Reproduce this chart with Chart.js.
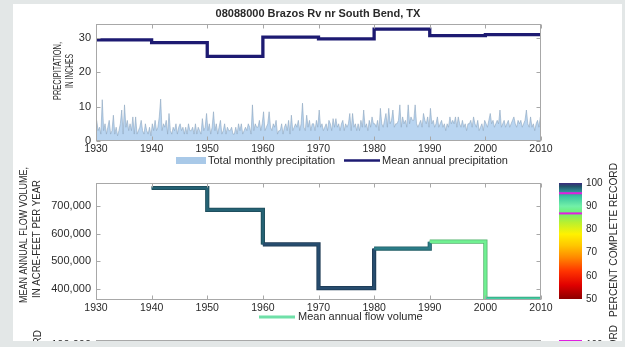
<!DOCTYPE html>
<html>
<head>
<meta charset="utf-8">
<script src="https://cdn.jsdelivr.net/npm/chart.js@4.4.1/dist/chart.umd.min.js"></script>
<style>
  html, body { margin: 0; padding: 0; width: 625px; height: 347px; overflow: hidden; background: #e3e7e7; }
  #sheet { position: absolute; left: 13px; top: 4px; width: 609px; height: 337px; background: #ffffff; overflow: hidden; }
  #sheet canvas { position: absolute; left: -13px; top: -4px; }
</style>
</head>
<body>
<div id="sheet">
  <canvas id="precipChart" width="625" height="347"></canvas>
  <canvas id="flowChart" width="625" height="347"></canvas>
  <canvas id="percentBar" width="625" height="347"></canvas>
</div>
<script>
// ---- Station data: 08088000 Brazos Rv nr South Bend, TX ----
const stationTitle = '08088000 Brazos Rv nr South Bend, TX';

// Decade boundaries used by the step series
const precipDecades = [1930, 1940, 1950, 1960, 1970, 1980, 1990, 2000, 2010];
// Mean annual precipitation per decade, inches
const meanAnnualPrecip = [29.4, 28.6, 24.6, 30.2, 29.7, 32.5, 30.6, 30.9];

const flowDecades = [1940, 1950, 1960, 1970, 1980, 1990, 2000, 2010];
// Mean annual flow volume per decade, acre-feet per year
const meanAnnualFlow = [765000, 686000, 561000, 403000, 546000, 571000, 364000];
// Percent complete record for each flow decade
const percentComplete = [98.0, 98.0, 98.8, 98.8, 97.0, 88.8, 93.5];
// Percent levels marked on the colour bar
const markedPercents = [95.6, 86.9];

// Precipitation totals, inches, four readings per year from 1930 to 2009
const precipStartYear = 1930;
const precipPerYear = 4;
const precipTotals = [
  6, 3, 4, 2,      12, 3, 5, 2,
  4, 6, 2, 3,      7.5, 2, 4, 1.5,
  3, 5, 9, 2,      10.5, 4, 6, 3,
  5, 3, 7, 2,      7, 2, 3, 4,
  6, 3, 2, 5,      3, 2, 4, 1.5,
  5, 3, 6, 3,      4, 7, 12.2, 3,
  5, 4, 6, 2,      8, 3, 2, 4,
  3, 5, 2, 4,      5, 3, 4, 2,
  4, 2, 5, 3,      3, 4, 2, 5,
  2, 4, 3, 2,      6.5, 3, 4, 8,
  3, 5, 2, 4,      8.5, 3, 5, 2,
  4, 6, 2, 3,      5, 2, 4, 3,
  3, 4, 2, 2,      4, 2, 5, 3,
  5, 2, 3, 4,      3, 5, 4, 2,
  10.5, 3, 5, 4,   4, 6, 3, 5,
  8.5, 3, 4, 5,    8.5, 4, 3, 5,
  4, 6, 2, 3,      3, 5, 2, 4,
  5, 3, 6, 2,      7.5, 3, 4, 5,
  4, 6, 3, 5,      11, 4, 3, 7.5,
  4, 6, 3, 5,      5, 3, 6, 4,
  9, 4, 5, 3,      4, 5, 3, 6,
  5, 3, 6.5, 4,    6.5, 4, 5, 3,
  5, 6, 3, 5,      4, 5, 8, 3,
  8, 4, 5, 3,      5, 3, 6, 4,
  9, 4, 5, 3,      6, 4, 7, 5,
  5, 4, 6, 3,      9.5, 5, 4, 6,
  8, 4, 9.5, 5,    6, 9, 4, 5,
  5, 6, 10.5, 4,   7, 5, 6, 4,
  10.5, 5, 7, 6,   6, 10.5, 5, 4,
  5, 6, 4, 8,      6, 5, 7, 4,
  9.5, 5, 6, 4,    5, 7, 4, 5,
  6, 4, 5, 3,      5, 4, 7, 5,
  6, 5, 7, 4,      7, 5, 4, 6,
  4, 5, 3, 5,      5, 6, 4, 7,
  5, 4, 6, 3,      4, 5, 3, 6,
  5, 4, 6, 8,      5, 6, 4, 5,
  6, 5, 9, 4,      5, 6, 4, 5,
  6, 4, 5, 6,      7, 5, 4, 6,
  5, 6, 4, 5,      6, 9, 5, 4,
  7, 4, 5, 3,      5, 6, 4, 7
];

// Tick labels
const yearTicks = [1930, 1940, 1950, 1960, 1970, 1980, 1990, 2000, 2010];
const precipTicks = [0, 10, 20, 30];
const flowTicks = [400000, 500000, 600000, 700000];
const percentTicks = [50, 60, 70, 80, 90, 100];

// ---- Styling ----
const FONT = '"Liberation Sans", Arial, Helvetica, sans-serif';
const TEXT = '#2a2a2a';
const FRAME = '#a8a8a8';
Chart.defaults.font.family = FONT;
Chart.defaults.color = TEXT;

// Colour map for percent complete record (50 to 100)
const percentColormap = [
  [50, '#8c0000'], [56, '#e00000'], [62, '#ff3400'], [68, '#ff8a00'],
  [73, '#ffc600'], [78, '#fff200'], [83, '#b8f030'], [87, '#6cf070'],
  [90, '#72f0a8'], [94, '#3cc8a0'], [96.5, '#2e8a92'], [98.5, '#22546a'],
  [100, '#3c2a7e']
];
function hexToRgb(h) {
  return [parseInt(h.slice(1, 3), 16), parseInt(h.slice(3, 5), 16), parseInt(h.slice(5, 7), 16)];
}
function percentColor(p) {
  const cm = percentColormap;
  if (p <= cm[0][0]) return cm[0][1];
  for (let i = 1; i < cm.length; i++) {
    if (p <= cm[i][0]) {
      const t = (p - cm[i - 1][0]) / (cm[i][0] - cm[i - 1][0]);
      const a = hexToRgb(cm[i - 1][1]), b = hexToRgb(cm[i][1]);
      const c = a.map((v, k) => Math.round(v + (b[k] - v) * t));
      return `rgb(${c[0]},${c[1]},${c[2]})`;
    }
  }
  return cm[cm.length - 1][1];
}
// Slightly darker shade of a colour, for line edges
function shade(rgb, f) {
  const m = rgb.match(/\d+/g) || hexToRgb(rgb);
  const c = m.map(v => Math.round(Number(v) * f));
  return `rgb(${c[0]},${c[1]},${c[2]})`;
}

// ---- Shared helpers ----
function fixedTicks(values) {
  return scale => { scale.ticks = values.map(v => ({ value: v })); };
}
function yearAxis() {
  return {
    type: 'linear', min: 1930, max: 2010,
    afterBuildTicks: fixedTicks(yearTicks),
    afterFit: s => { s.height = 20; },
    grid: { display: false, drawTicks: false },
    border: { display: false },
    ticks: { font: { size: 10.5 }, padding: 2, maxRotation: 0, callback: v => String(v) }
  };
}
// Rotated text squeezed to a given length along its baseline
function rotatedText(ctx, text, x, y, length, size, align) {
  ctx.save();
  ctx.translate(x, y);
  ctx.rotate(-Math.PI / 2);
  ctx.font = `${size}px ${FONT}`;
  ctx.fillStyle = TEXT;
  ctx.textBaseline = 'middle';
  ctx.textAlign = align || 'center';
  const w = ctx.measureText(text).width;
  if (length) ctx.scale(length / w, 1);
  ctx.fillText(text, 0, 0);
  ctx.restore();
}
function plainText(ctx, text, x, y, size, weight, align) {
  ctx.save();
  ctx.font = `${weight || 'normal'} ${size}px ${FONT}`;
  ctx.fillStyle = TEXT;
  ctx.textBaseline = 'middle';
  ctx.textAlign = align || 'left';
  ctx.fillText(text, x, y);
  ctx.restore();
}

// Boxed axes with short inward tick marks on all four sides
const boxedAxes = {
  id: 'boxedAxes',
  afterDatasetsDraw(chart) {
    const { ctx, chartArea: a, scales } = chart;
    const L = Math.round(a.left) + 0.5, R = Math.round(a.right) - 0.5;
    const T = Math.round(a.top) + 0.5, B = Math.round(a.bottom) - 0.5;
    ctx.save();
    ctx.strokeStyle = FRAME;
    ctx.lineWidth = 1;
    ctx.strokeRect(L, T, R - L, B - T);
    ctx.beginPath();
    scales.x.ticks.forEach(t => {
      const px = Math.round(scales.x.getPixelForValue(t.value)) + 0.5;
      ctx.moveTo(px, B); ctx.lineTo(px, B - 4);
      ctx.moveTo(px, T); ctx.lineTo(px, T + 4);
    });
    scales.y.ticks.forEach(t => {
      const py = Math.round(scales.y.getPixelForValue(t.value)) + 0.5;
      ctx.moveTo(L, py); ctx.lineTo(L + 4, py);
      ctx.moveTo(R, py); ctx.lineTo(R - 4, py);
    });
    ctx.stroke();
    ctx.restore();
  }
};

// ---- Precipitation panel ----
const precipPoints = precipTotals.map((v, i) => ({
  x: precipStartYear + (i + 0.5) / precipPerYear, y: v
}));
const precipStep = precipDecades.map((yr, i) => ({
  x: yr, y: meanAnnualPrecip[Math.min(i, meanAnnualPrecip.length - 1)]
}));

const precipLabels = {
  id: 'precipLabels',
  afterDraw(chart) {
    const ctx = chart.ctx;
    const [bars, mean] = chart.data.datasets;
    plainText(ctx, stationTitle, 318, 13.5, 11, 'bold', 'center');
    rotatedText(ctx, 'PRECIPITATION,', 58, 71, 58, 10.5);
    rotatedText(ctx, 'IN INCHES', 70, 71, 34, 10.5);
    // legend
    ctx.save();
    ctx.fillStyle = '#a9c9e8';
    ctx.fillRect(176, 157, 30, 7);
    ctx.strokeStyle = mean.borderColor;
    ctx.lineWidth = 2.5;
    ctx.beginPath(); ctx.moveTo(344, 160.5); ctx.lineTo(380, 160.5); ctx.stroke();
    ctx.restore();
    plainText(ctx, bars.label, 208, 160.5, 11);
    plainText(ctx, mean.label, 382, 160.5, 11);
  }
};

new Chart(document.getElementById('precipChart'), {
  type: 'line',
  data: {
    datasets: [
      {
        label: 'Total monthly precipitation',
        data: precipPoints,
        fill: 'origin',
        backgroundColor: 'rgba(168,202,238,0.8)',
        borderColor: 'rgba(140,165,190,0.85)',
        borderWidth: 0.7,
        pointRadius: 0,
        tension: 0,
        order: 2
      },
      {
        label: 'Mean annual precipitation',
        data: precipStep,
        stepped: true,
        fill: false,
        borderColor: '#1d1a72',
        borderWidth: 3.3,
        pointRadius: 0,
        order: 1
      }
    ]
  },
  options: {
    responsive: false,
    devicePixelRatio: 1,
    animation: false,
    events: [],
    layout: { padding: { left: 46, right: 84, top: 24, bottom: 186 } },
    plugins: { legend: { display: false }, tooltip: { enabled: false } },
    scales: {
      x: yearAxis(),
      y: {
        type: 'linear', min: 0, max: 34,
        afterBuildTicks: fixedTicks(precipTicks),
        afterFit: s => { s.width = 50; },
        grid: { display: false, drawTicks: false },
        border: { display: false },
        ticks: { font: { size: 11 }, padding: 5 }
      }
    }
  },
  plugins: [boxedAxes, precipLabels]
});

// ---- Flow volume panel ----
const flowPoints = flowDecades.map((yr, i) => ({
  x: yr, y: meanAnnualFlow[Math.min(i, meanAnnualFlow.length - 1)]
}));

const flowLabels = {
  id: 'flowLabels',
  afterDraw(chart) {
    const ctx = chart.ctx;
    rotatedText(ctx, 'MEAN ANNUAL FLOW VOLUME,', 24, 235, 136, 10.5);
    rotatedText(ctx, 'IN ACRE-FEET PER YEAR', 37, 239, 118, 10.5);
    // legend
    ctx.save();
    ctx.strokeStyle = '#6fe0a8';
    ctx.lineWidth = 3;
    ctx.beginPath(); ctx.moveTo(259, 317); ctx.lineTo(295, 317); ctx.stroke();
    ctx.restore();
    plainText(ctx, chart.data.datasets[1].label, 298, 317, 11);
    // top of the next panel, below this one
    ctx.save();
    ctx.strokeStyle = FRAME;
    ctx.beginPath(); ctx.moveTo(96, 340.5); ctx.lineTo(541, 340.5); ctx.stroke();
    ctx.restore();
    plainText(ctx, '100,000', 91, 345, 11, 'normal', 'right');
    rotatedText(ctx, 'PERCENT OF RECORD', 38, 330, null, 10, 'right');
  }
};

new Chart(document.getElementById('flowChart'), {
  type: 'line',
  data: {
    datasets: [
      {
        // darker edge under the coloured step line
        label: 'edge',
        data: flowPoints,
        stepped: true,
        fill: false,
        borderWidth: 4.2,
        borderColor: shade(percentColor(percentComplete[0]), 0.7),
        segment: { borderColor: c => shade(percentColor(percentComplete[c.p0DataIndex]), 0.75) },
        pointRadius: 0,
        order: 2
      },
      {
        label: 'Mean annual flow volume',
        data: flowPoints,
        stepped: true,
        fill: false,
        borderWidth: 2.6,
        borderColor: percentColor(percentComplete[0]),
        segment: { borderColor: c => percentColor(percentComplete[c.p0DataIndex]) },
        pointRadius: 0,
        order: 1
      }
    ]
  },
  options: {
    responsive: false,
    devicePixelRatio: 1,
    animation: false,
    events: [],
    layout: { padding: { left: 46, right: 84, top: 183, bottom: 27 } },
    plugins: { legend: { display: false }, tooltip: { enabled: false } },
    scales: {
      x: yearAxis(),
      y: {
        type: 'linear', min: 360000, max: 783000,
        afterBuildTicks: fixedTicks(flowTicks),
        afterFit: s => { s.width = 50; },
        grid: { display: false, drawTicks: false },
        border: { display: false },
        ticks: { font: { size: 11 }, padding: 5, callback: v => v.toLocaleString('en-US') }
      }
    }
  },
  plugins: [boxedAxes, flowLabels]
});

// ---- Percent complete colour bar ----
function colormapGradient(c) {
  const chart = c.chart;
  if (!chart.chartArea) return percentColormap[0][1];
  const y = chart.scales.y;
  const g = chart.ctx.createLinearGradient(0, y.getPixelForValue(50), 0, y.getPixelForValue(100));
  percentColormap.forEach(([v, col]) => g.addColorStop((v - 50) / 50, col));
  return g;
}

const barLabels = {
  id: 'barLabels',
  afterDraw(chart) {
    const ctx = chart.ctx;
    rotatedText(ctx, 'PERCENT COMPLETE RECORD', 614, 240, 154, 10);
    // colour bar of the next panel
    ctx.save();
    ctx.fillStyle = '#e020e0';
    ctx.fillRect(559, 340, 23, 2);
    ctx.restore();
    plainText(ctx, '100', 586, 345, 10);
    rotatedText(ctx, 'PERCENT COMPLETE RECORD', 614, 325, null, 10, 'right');
  }
};

new Chart(document.getElementById('percentBar'), {
  type: 'bar',
  data: {
    labels: [''],
    datasets: [
      {
        data: [[50, 100]],
        backgroundColor: colormapGradient,
        borderWidth: 0,
        barPercentage: 1, categoryPercentage: 1,
        grouped: false, order: 2
      },
      ...markedPercents.map(p => ({
        data: [[p - 0.3, p + 0.3]],
        backgroundColor: '#e020e0',
        borderWidth: 0,
        barPercentage: 1, categoryPercentage: 1,
        grouped: false, order: 1
      }))
    ]
  },
  options: {
    responsive: false,
    devicePixelRatio: 1,
    animation: false,
    events: [],
    layout: { padding: { left: 559, right: 13, top: 183, bottom: 48 } },
    plugins: { legend: { display: false }, tooltip: { enabled: false } },
    scales: {
      x: { display: false },
      y: {
        position: 'right', min: 50, max: 100,
        afterBuildTicks: fixedTicks(percentTicks),
        afterFit: s => { s.width = 30; },
        grid: { display: false, drawTicks: false },
        border: { display: false },
        ticks: { font: { size: 10 }, padding: 4 }
      }
    }
  },
  plugins: [barLabels]
});
</script>
</body>
</html>
